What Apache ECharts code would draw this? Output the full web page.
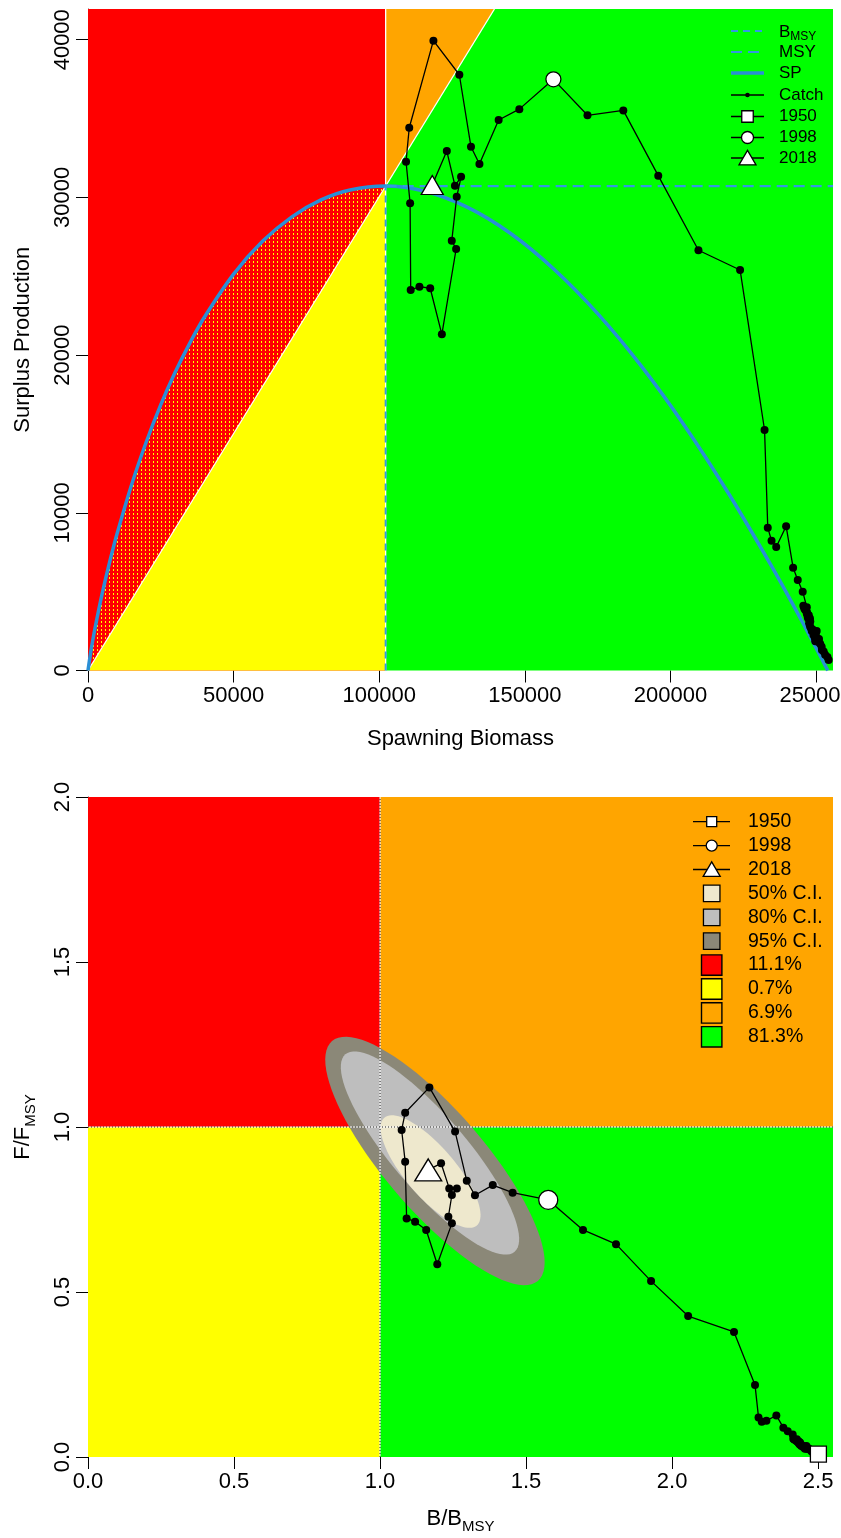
<!DOCTYPE html>
<html>
<head>
<meta charset="utf-8">
<script src="https://cdn.jsdelivr.net/npm/echarts@6/dist/echarts.min.js"></script>
<style>
html, body { margin: 0; padding: 0; background: #fff; }
#chart { width: 841px; height: 1538px; }
</style>
</head>
<body>
<div id="chart"></div>
<script>
// ---- top panel: surplus production curve ----
const spBiomass = [0, 1000, 2000, 3000, 5000, 7500, 10000, 15000, 20000, 25000, 30000, 35000, 40000,
  50000, 60000, 70000, 80000, 90000, 102200, 115000, 130000, 145000, 160000, 175000, 190000,
  205000, 220000, 235000, 245000, 254000]
const spValues = [0, 1230, 2280, 3230, 4980, 6930, 8690, 11800, 14490, 16860, 18940, 20780, 22420,
  25140, 27230, 28770, 29840, 30470, 30720, 30420, 29400, 27730, 25450, 22630, 19300,
  15480, 11210, 6520, 3170, 0]
const bmsy = 102200
const msy = 30720

// spawning biomass and catch, 1950 - 2018
const spawnBio = [254300, 253900, 253100, 252600, 252000, 251900, 251400, 250800, 251000, 250300,
  250200, 249700, 249100, 249600, 250200, 249900, 249300, 248800, 248200, 248500,
  247900, 248000, 247600, 247900, 247500, 247100, 246800, 247300, 246900, 246500,
  245900, 245600, 246200, 246500, 246800, 245400, 243700, 242100, 239700, 236300,
  234700, 233400, 232300, 223900, 209600, 195800, 183800, 171500, 159800, 148100,
  141000, 134400, 131500, 127500, 118600, 110300, 109200, 110600, 110800, 113800,
  117500, 121500, 126400, 124900, 126600, 128100, 126000, 123200, 118200]
const catchVals = [670, 850, 1000, 1200, 1300, 1500, 1700, 1800, 2000, 1900,
  2100, 1850, 2250, 2050, 2500, 2400, 2300, 2600, 2700, 2500,
  2800, 3100, 3000, 3300, 3500, 3400, 3600, 3300, 3700, 3800,
  3950, 4100, 3850, 3900, 4010, 5000, 5740, 6520, 9150, 7830,
  8230, 9060, 15250, 25400, 26650, 31380, 35520, 35210, 37490, 35600,
  34910, 32120, 33210, 37780, 39940, 34420, 32260, 29630, 24130, 24340,
  24240, 21320, 26730, 27250, 30040, 31310, 30740, 32940, 30790]

// ---- bottom panel: B/Bmsy and F/Fmsy, 1950 - 2018 ----
const bRatio = [2.501, 2.497, 2.489, 2.484, 2.478, 2.477, 2.472, 2.466, 2.468, 2.461,
  2.460, 2.455, 2.449, 2.454, 2.460, 2.457, 2.451, 2.446, 2.441, 2.443,
  2.438, 2.439, 2.435, 2.438, 2.434, 2.430, 2.427, 2.432, 2.428, 2.424,
  2.418, 2.415, 2.421, 2.424, 2.427, 2.413, 2.396, 2.381, 2.357, 2.323,
  2.307, 2.296, 2.284, 2.212, 2.055, 1.928, 1.808, 1.695, 1.576, 1.454,
  1.386, 1.325, 1.297, 1.257, 1.169, 1.086, 1.074, 1.086, 1.091, 1.120,
  1.158, 1.196, 1.246, 1.234, 1.246, 1.263, 1.237, 1.209, 1.165]
const fRatio = [0.009, 0.011, 0.013, 0.016, 0.017, 0.020, 0.022, 0.024, 0.026, 0.025,
  0.028, 0.025, 0.030, 0.027, 0.033, 0.032, 0.031, 0.035, 0.036, 0.033,
  0.037, 0.041, 0.040, 0.044, 0.047, 0.046, 0.048, 0.044, 0.050, 0.051,
  0.053, 0.055, 0.052, 0.052, 0.054, 0.068, 0.078, 0.089, 0.126, 0.110,
  0.107, 0.120, 0.218, 0.379, 0.427, 0.533, 0.645, 0.688, 0.779, 0.801,
  0.824, 0.793, 0.837, 0.986, 1.120, 1.043, 0.991, 0.895, 0.723, 0.713,
  0.688, 0.584, 0.708, 0.728, 0.794, 0.814, 0.814, 0.890, 0.870]

// highlighted years: index in the arrays above
const markYears = ['1950', '1998', '2018']
const markIdx = [0, 48, 68]

// confidence regions (95%, 80%, 50%): centre and half axes in B/Bmsy, F/Fmsy units
const ciLabels = ['95% C.I.', '80% C.I.', '50% C.I.']
const ciCenter = [[1.188, 0.897], [1.171, 0.921], [1.173, 0.865]]
const ciMajor = [[0.3524, -0.3633], [0.2898, -0.2991], [0.1583, -0.1633]]
const ciMinor = [[0.1300, 0.0986], [0.0962, 0.0730], [0.0650, 0.0493]]

// share of the posterior in each quadrant: red, yellow, orange, green
const quadPct = ['11.1%', '0.7%', '6.9%', '81.3%']

// axis ticks
const topXTicks = [0, 50000, 100000, 150000, 200000, 250000]
const topYTicks = [0, 10000, 20000, 30000, 40000]
const botXTicks = [0, 0.5, 1, 1.5, 2, 2.5]
const botYTicks = [0, 0.5, 1, 1.5, 2]

const topXMax = 255800
const topYMax = 41950
const botXMax = 2.551
const botYMax = 2.0

const fam = "'Liberation Sans', Arial, Helvetica, sans-serif"
const RED = '#ff0000'
const YELLOW = '#ffff00'
const ORANGE = '#ffa500'
const GREEN = '#00ff00'
const SPBLUE = '#2a8fd6'
const DASHBLUE = '#3399e0'
const ciColors = ['#8b8878', '#bebebe', '#eee8cd']

// red with yellow specks, like the shaded wedge in the original
function makeHatch () {
  const c = document.createElement('canvas')
  c.width = 4
  c.height = 4
  const g = c.getContext('2d')
  g.fillStyle = RED
  g.fillRect(0, 0, 4, 4)
  g.fillStyle = YELLOW
  g.fillRect(1, 1, 1, 2)
  return c
}
const hatch = makeHatch()

function renderTopBg (params, api) {
  const p = (x, y) => api.coord([x, y])
  const xTop = topYMax * bmsy / msy
  const wedge = [p(0, 0)]
  for (let i = 0; i < spBiomass.length; i++) {
    if (spBiomass[i] <= bmsy) wedge.push(p(spBiomass[i], spValues[i]))
  }
  const o = p(0, 0)
  const t = p(xTop, topYMax)
  const v0 = p(bmsy, 0)
  const v1 = p(bmsy, topYMax)
  return {
    type: 'group',
    children: [
      { type: 'polygon', shape: { points: [p(0, 0), p(bmsy, 0), p(bmsy, topYMax), p(0, topYMax)] }, style: { fill: RED } },
      { type: 'polygon', shape: { points: [p(0, 0), p(bmsy, 0), p(bmsy, msy)] }, style: { fill: YELLOW } },
      { type: 'polygon', shape: { points: [p(bmsy, msy), p(xTop, topYMax), p(bmsy, topYMax)] }, style: { fill: ORANGE } },
      { type: 'polygon', shape: { points: [p(bmsy, 0), p(topXMax, 0), p(topXMax, topYMax), p(xTop, topYMax), p(bmsy, msy)] }, style: { fill: GREEN } },
      { type: 'polygon', shape: { points: wedge }, style: { fill: { image: hatch, repeat: 'repeat' } } },
      { type: 'line', shape: { x1: o[0], y1: o[1], x2: t[0], y2: t[1] }, style: { stroke: '#fff', lineWidth: 1.3 } },
      { type: 'line', shape: { x1: v0[0], y1: v0[1], x2: v1[0], y2: v1[1] }, style: { stroke: '#fff', lineWidth: 1.3 } }
    ]
  }
}

function renderBotBg (params, api) {
  const p = (x, y) => api.coord([x, y])
  return {
    type: 'group',
    children: [
      { type: 'polygon', shape: { points: [p(0, 1), p(1, 1), p(1, botYMax), p(0, botYMax)] }, style: { fill: RED } },
      { type: 'polygon', shape: { points: [p(0, 0), p(1, 0), p(1, 1), p(0, 1)] }, style: { fill: YELLOW } },
      { type: 'polygon', shape: { points: [p(1, 1), p(botXMax, 1), p(botXMax, botYMax), p(1, botYMax)] }, style: { fill: ORANGE } },
      { type: 'polygon', shape: { points: [p(1, 0), p(botXMax, 0), p(botXMax, 1), p(1, 1)] }, style: { fill: GREEN } }
    ]
  }
}

function renderEllipses (params, api) {
  const children = []
  for (let k = 0; k < ciCenter.length; k++) {
    const pts = []
    for (let j = 0; j < 90; j++) {
      const t = j / 90 * Math.PI * 2
      pts.push(api.coord([
        ciCenter[k][0] + ciMajor[k][0] * Math.cos(t) + ciMinor[k][0] * Math.sin(t),
        ciCenter[k][1] + ciMajor[k][1] * Math.cos(t) + ciMinor[k][1] * Math.sin(t)
      ]))
    }
    children.push({ type: 'polygon', shape: { points: pts }, style: { fill: ciColors[k] } })
  }
  return { type: 'group', children }
}

function renderRefLines (params, api) {
  const a = api.coord([1, 0])
  const b = api.coord([1, botYMax])
  const c = api.coord([0, 1])
  const d = api.coord([botXMax, 1])
  const children = []
  for (const seg of [[a, b], [c, d]]) {
    children.push({ type: 'line', shape: { x1: seg[0][0], y1: seg[0][1], x2: seg[1][0], y2: seg[1][1] }, style: { stroke: '#fff', lineWidth: 1 } })
    children.push({ type: 'line', shape: { x1: seg[0][0], y1: seg[0][1], x2: seg[1][0], y2: seg[1][1] }, style: { stroke: '#222', lineWidth: 1, lineDash: [1, 2] } })
  }
  return { type: 'group', children }
}

const axisText = { color: '#000', fontSize: 22, fontFamily: fam }

function valueAxis (grid, max, ticks, fmt, extra) {
  return Object.assign({
    gridIndex: grid,
    type: 'value',
    min: 0,
    max: max,
    splitLine: { show: false },
    axisLine: { show: false },
    axisTick: { show: true, length: 12, customValues: ticks, lineStyle: { color: '#000', width: 1 } },
    axisLabel: Object.assign({ customValues: ticks, formatter: fmt, margin: 14, alignMaxLabel: 'center' }, axisText),
    nameLocation: 'middle',
    nameTextStyle: Object.assign({}, axisText)
  }, extra)
}

const subRich = {
  m: { fontSize: 22, fontFamily: fam, color: '#000', lineHeight: 30 },
  s: { fontSize: 15, fontFamily: fam, color: '#000', lineHeight: 15, verticalAlign: 'bottom' }
}

// ---- legends ----
const graphics = []
function gLine (x1, x2, y, stroke, width, dash) {
  graphics.push({ type: 'line', z: 100, shape: { x1: x1, y1: y, x2: x2, y2: y }, style: { stroke: stroke, lineWidth: width, lineDash: dash || null } })
}
function gText (x, y, text, size, rich) {
  graphics.push({ type: 'text', z: 101, style: { x: x, y: y, text: text, fontSize: size, fontFamily: fam, fill: '#000', verticalAlign: 'middle', align: 'left', rich: rich } })
}
function gSymbol (kind, cx, cy, s, fill) {
  const st = { fill: fill || '#fff', stroke: '#000', lineWidth: 1.3 }
  if (kind === 'rect') graphics.push({ type: 'rect', z: 101, shape: { x: cx - s / 2, y: cy - s / 2, width: s, height: s }, style: st })
  if (kind === 'circle') graphics.push({ type: 'circle', z: 101, shape: { cx: cx, cy: cy, r: s / 2 }, style: st })
  if (kind === 'triangle') graphics.push({ type: 'polygon', z: 101, shape: { points: [[cx, cy - s * 0.45], [cx - s / 2, cy + s * 0.4], [cx + s / 2, cy + s * 0.4]] }, style: st })
}

// top legend
const tRows = [31, 52, 73, 95, 116.5, 137.5, 158]
gLine(731, 764, tRows[0], DASHBLUE, 2, [7, 5])
gText(779, tRows[0] + 1, '{a|B}{b|MSY}', 17, {
  a: { fontSize: 17, fontFamily: fam, color: '#000', lineHeight: 22 },
  b: { fontSize: 12, fontFamily: fam, color: '#000', lineHeight: 12, verticalAlign: 'bottom' }
})
gLine(731, 764, tRows[1], DASHBLUE, 2, [11, 6])
gText(779, tRows[1], 'MSY', 17)
gLine(731, 764, tRows[2], SPBLUE, 3.5)
gText(779, tRows[2], 'SP', 17)
gLine(731, 764, tRows[3], '#000', 1.3)
graphics.push({ type: 'circle', z: 101, shape: { cx: 747.5, cy: tRows[3], r: 2.3 }, style: { fill: '#000' } })
gText(779, tRows[3], 'Catch', 17)
const symKinds = ['rect', 'circle', 'triangle']
const tSizes = [11.5, 12, 17]
for (let i = 0; i < 3; i++) {
  gLine(731, 764, tRows[4 + i], '#000', 1.3)
  gSymbol(symKinds[i], 747.5, tRows[4 + i], tSizes[i])
  gText(779, tRows[4 + i], markYears[i], 17)
}

// bottom legend
const bRows = [821.7, 845.6, 869.5, 893.4, 917.3, 941.2, 965.1, 989, 1012.9, 1036.8]
const bSizes = [10, 11, 17]
for (let i = 0; i < 3; i++) {
  gLine(693, 730, bRows[i], '#000', 1.3)
  gSymbol(symKinds[i], 711.7, bRows[i], bSizes[i])
  gText(748, bRows[i], markYears[i], 19.5)
}
for (let i = 0; i < 3; i++) {
  const k = 2 - i // 50%, 80%, 95%
  gSymbol('rect', 711.7, bRows[3 + i], 16.5, ciColors[k])
  gText(748, bRows[3 + i], ciLabels[k], 19.5)
}
const quadColors = [RED, YELLOW, ORANGE, GREEN]
for (let i = 0; i < 4; i++) {
  graphics.push({ type: 'rect', z: 101, shape: { x: 701.5, y: bRows[6 + i] - 10.2, width: 20.4, height: 20.4 }, style: { fill: quadColors[i], stroke: '#000', lineWidth: 1.4 } })
  gText(748, bRows[6 + i], quadPct[i], 19.5)
}

const topPath = spawnBio.map((b, i) => [b, catchVals[i]])
const botPath = bRatio.map((b, i) => [b, fRatio[i]])
const markerStyle = { color: '#fff', borderColor: '#000', borderWidth: 1.3, opacity: 1 }

const option = {
  animation: false,
  backgroundColor: '#fff',
  grid: [
    { left: 88, top: 9, width: 745, height: 661.5, outerBoundsMode: 'none', containLabel: false },
    { left: 88, top: 797, width: 745, height: 660, outerBoundsMode: 'none', containLabel: false }
  ],
  xAxis: [
    valueAxis(0, topXMax, topXTicks, v => String(v), { name: 'Spawning Biomass', nameGap: 57 }),
    valueAxis(1, botXMax, botXTicks, v => v.toFixed(1), {
      name: '{m|B/B}{s|MSY}', nameGap: 47, nameTextStyle: { rich: subRich }
    })
  ],
  yAxis: [
    valueAxis(0, topYMax, topYTicks, v => String(v), {
      name: 'Surplus Production', nameGap: 54,
      axisLine: { show: true, lineStyle: { color: '#444', width: 1 } },
      axisLabel: Object.assign({ customValues: topYTicks, formatter: v => String(v), margin: 14, rotate: 90 }, axisText)
    }),
    valueAxis(1, botYMax, botYTicks, v => v.toFixed(1), {
      name: '{m|F/F}{s|MSY}', nameGap: 50, nameTextStyle: { rich: subRich },
      axisLine: { show: true, lineStyle: { color: '#444', width: 1 } },
      axisLabel: Object.assign({ customValues: botYTicks, formatter: v => v.toFixed(1), margin: 14, rotate: 90 }, axisText)
    })
  ],
  graphic: graphics,
  series: [
    // top panel
    { type: 'custom', xAxisIndex: 0, yAxisIndex: 0, silent: true, z: 1, renderItem: renderTopBg, data: [[0, 0]] },
    {
      type: 'line', xAxisIndex: 0, yAxisIndex: 0, silent: true, z: 2, smooth: 0.35, symbol: 'none',
      data: spBiomass.map((b, i) => [b, spValues[i]]), lineStyle: { color: SPBLUE, width: 3.5 }
    },
    {
      type: 'line', xAxisIndex: 0, yAxisIndex: 0, silent: true, z: 3, symbol: 'none',
      data: [[bmsy, msy], [topXMax, msy]], lineStyle: { color: DASHBLUE, width: 2.2, type: [11, 6] }
    },
    {
      type: 'line', xAxisIndex: 0, yAxisIndex: 0, silent: true, z: 3, symbol: 'none',
      data: [[bmsy, 0], [bmsy, msy]], lineStyle: { color: DASHBLUE, width: 2, type: [7, 5] }
    },
    {
      type: 'line', xAxisIndex: 0, yAxisIndex: 0, silent: true, z: 5, symbol: 'circle', symbolSize: 8,
      data: topPath, itemStyle: { color: '#000', opacity: 1 }, lineStyle: { color: '#000', width: 1.3 }
    },
    {
      type: 'scatter', xAxisIndex: 0, yAxisIndex: 0, silent: true, z: 6, symbol: 'circle', symbolSize: 15,
      data: [topPath[markIdx[1]]], itemStyle: markerStyle
    },
    {
      type: 'scatter', xAxisIndex: 0, yAxisIndex: 0, silent: true, z: 6, symbol: 'triangle', symbolSize: [22, 19],
      data: [topPath[markIdx[2]]], itemStyle: markerStyle
    },
    // bottom panel
    { type: 'custom', xAxisIndex: 1, yAxisIndex: 1, silent: true, z: 1, renderItem: renderBotBg, data: [[0, 0]] },
    { type: 'custom', xAxisIndex: 1, yAxisIndex: 1, silent: true, z: 2, renderItem: renderEllipses, data: [[0, 0]] },
    { type: 'custom', xAxisIndex: 1, yAxisIndex: 1, silent: true, z: 3, renderItem: renderRefLines, data: [[0, 0]] },
    {
      type: 'line', xAxisIndex: 1, yAxisIndex: 1, silent: true, z: 5, symbol: 'circle', symbolSize: 8, clip: false,
      data: botPath, itemStyle: { color: '#000', opacity: 1 }, lineStyle: { color: '#000', width: 1.3 }
    },
    {
      type: 'scatter', xAxisIndex: 1, yAxisIndex: 1, silent: true, z: 6, symbol: symKinds[0], symbolSize: 16, clip: false,
      data: [botPath[markIdx[0]]], itemStyle: markerStyle
    },
    {
      type: 'scatter', xAxisIndex: 1, yAxisIndex: 1, silent: true, z: 6, symbol: symKinds[1], symbolSize: 19,
      data: [botPath[markIdx[1]]], itemStyle: markerStyle
    },
    {
      type: 'scatter', xAxisIndex: 1, yAxisIndex: 1, silent: true, z: 6, symbol: symKinds[2], symbolSize: [27, 22],
      data: [botPath[markIdx[2]]], itemStyle: markerStyle
    }
  ]
}

const chart = echarts.init(document.getElementById('chart'))
chart.setOption(option)
</script>
</body>
</html>
